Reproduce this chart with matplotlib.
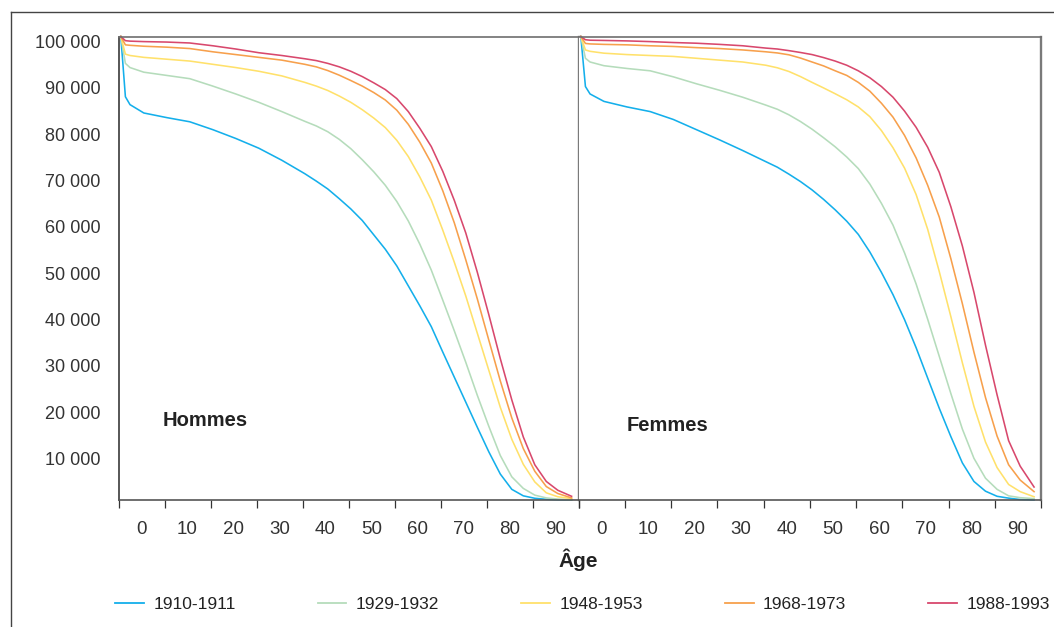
import matplotlib
matplotlib.use("Agg")
import matplotlib.pyplot as plt
from matplotlib.lines import Line2D
from matplotlib.transforms import ScaledTranslation

plt.rcParams['font.family'] = ['Liberation Sans Narrow', 'Liberation Sans', 'DejaVu Sans']

# ages of the survival table (drawn at the centre of each age class)
AGES = [0, 1, 2, 5, 10, 15, 20, 25, 30, 35,
        40, 42.5, 45, 47.5, 50, 52.5, 55, 57.5, 60, 62.5, 65, 67.5,
        70, 72.5, 75, 77.5, 80, 82.5, 85, 87.5, 90, 92.5, 95, 98]
COHORTS = ['1910-1911', '1929-1932', '1948-1953', '1968-1973', '1988-1993']
COLORS = ['#14afeb', '#b5dcbb', '#ffe16b', '#f7a04c', '#d8486d']

# survivors out of 100 000 births, men
hommes_1910 = [100000, 87000, 85300, 83500, 82500, 81600, 79900, 78000, 75900, 73300,
               70400, 68800, 67100, 65000, 62800, 60300, 57200, 54100, 50500, 46200, 41900, 37400,
               31900, 26500, 21100, 15700, 10400, 5600, 2300, 900, 370, 150, 50, 0]
hommes_1929 = [100000, 94200, 93300, 92300, 91600, 90900, 89300, 87600, 85800, 83800,
               81700, 80700, 79450, 77800, 75800, 73400, 70800, 67900, 64400, 60200, 55200, 49600,
               43100, 36500, 29700, 22600, 15900, 9600, 5000, 2500, 1050, 450, 200, 50]
hommes_1948 = [100000, 96200, 95900, 95500, 95100, 94700, 94000, 93300, 92500, 91500,
               90100, 89300, 88350, 87150, 85800, 84200, 82400, 80350, 77600, 74100, 69700, 64700,
               58200, 51300, 44000, 36000, 28000, 20000, 13100, 7700, 3900, 1550, 700, 300]
hommes_1968 = [100000, 98200, 98100, 97900, 97700, 97400, 96700, 96100, 95500, 94900,
               94000, 93450, 92650, 91650, 90500, 89300, 87900, 86300, 84100, 81050, 77200, 72700,
               66700, 59800, 51800, 43400, 34500, 25700, 17700, 11100, 6200, 2900, 1400, 450]
hommes_1988 = [100000, 99100, 99000, 98900, 98800, 98600, 98000, 97300, 96500, 95900,
               95200, 94800, 94200, 93450, 92500, 91350, 90000, 88550, 86600, 83800, 80200, 76250,
               70900, 64650, 57600, 49150, 40000, 30500, 21600, 13600, 7600, 4000, 2100, 800]

# survivors out of 100 000 births, women
femmes_1910 = [100000, 89200, 87600, 86000, 84800, 83800, 82100, 79900, 77700, 75400,
               73000, 71800, 70300, 68700, 66900, 64850, 62600, 60150, 57300, 53500, 49100, 44300,
               38900, 32850, 26300, 19800, 13700, 8000, 4000, 1900, 800, 400, 100, 0]
femmes_1929 = [100000, 95300, 94500, 93700, 93100, 92600, 91300, 89800, 88400, 86900,
               85200, 84300, 83100, 81650, 80000, 78150, 76200, 74000, 71500, 68150, 64000, 59300,
               53300, 46600, 39000, 31000, 23000, 15300, 9000, 4700, 2300, 900, 500, 300]
femmes_1948 = [100000, 97100, 96800, 96400, 96100, 95900, 95700, 95300, 94900, 94500,
               93800, 93250, 92450, 91350, 90100, 88900, 87650, 86350, 84800, 82700, 79700, 76000,
               71600, 65900, 58400, 49300, 39600, 29600, 20200, 12500, 7000, 3350, 1800, 700]
femmes_1968 = [100000, 98500, 98400, 98300, 98200, 98000, 97850, 97600, 97400, 97100,
               96700, 96450, 96050, 95350, 94500, 93650, 92600, 91600, 90100, 88200, 85600, 82600,
               78650, 73800, 67900, 61050, 52100, 42350, 31900, 22100, 13800, 7600, 4300, 1800]
femmes_1988 = [100000, 99300, 99200, 99150, 99050, 98900, 98700, 98550, 98300, 98000,
               97500, 97300, 96950, 96550, 96100, 95450, 94700, 93800, 92600, 91100, 89200, 86900,
               83900, 80400, 76100, 70700, 63300, 54800, 44800, 33400, 22700, 12800, 7300, 2800]

Y_TICKS = [10000, 20000, 30000, 40000, 50000, 60000, 70000, 80000, 90000, 100000]
X_LABELS = [0, 10, 20, 30, 40, 50, 60, 70, 80, 90]

panels = [
    ('Hommes', [hommes_1910, hommes_1929, hommes_1948, hommes_1968, hommes_1988]),
    ('Femmes', [femmes_1910, femmes_1929, femmes_1948, femmes_1968, femmes_1988]),
]

W, H = 1054, 627
fig = plt.figure(figsize=(W / 100, H / 100), dpi=100)
fig.patch.set_facecolor('white')

bottom = 1 - 500 / H
height = 463.5 / H
ax1 = fig.add_axes([118.5 / W, bottom, 460 / W, height])
ax2 = fig.add_axes([578.5 / W, bottom, 462.5 / W, height], sharey=ax1)

text_color = '#333333'
xs = [a + 0.5 for a in AGES]

for ax, (name, series) in zip([ax1, ax2], panels):
    for values, color, label in zip(series, COLORS, COHORTS):
        ax.plot(xs, values, color=color, linewidth=1.15, label=label,
                solid_joinstyle='round', clip_on=False)

    ax.set_xlim(0, 100)
    ax.set_ylim(0, 100000)

    # tick marks between the age groups, labels centred in each group
    ax.set_xticks(range(0, 101, 10))
    ax.set_xticklabels([])
    ax.set_xticks([v + 5 for v in X_LABELS], minor=True)
    ax.set_xticklabels([str(v) for v in X_LABELS], minor=True)
    ax.tick_params(axis='x', which='major', direction='out', length=6,
                   width=0.9, color='#333333')
    ax.tick_params(axis='x', which='minor', length=0, pad=15,
                   labelsize=13.5, labelcolor=text_color)
    ax.tick_params(axis='y', length=0)

    for spine in ax.spines.values():
        spine.set_color('#6e6e6e')
        spine.set_linewidth(1.2)
    ax.spines['bottom'].set_color('#555555')

ax1.set_yticks(Y_TICKS)
ax1.set_yticklabels([f"{v:,}".replace(',', ' ') for v in Y_TICKS])
ax1.tick_params(axis='y', pad=13, labelsize=13, labelcolor=text_color)
offset = ScaledTranslation(0, -5 / 100, fig.dpi_scale_trans)
for lab in ax1.get_yticklabels():
    lab.set_transform(lab.get_transform() + offset)
ax1.spines['left'].set_color('#3a3a3a')
ax1.spines['right'].set_linewidth(1.7)
ax1.spines['right'].set_color('#7a7a7a')

ax2.tick_params(axis='y', labelleft=False)
ax2.spines['left'].set_visible(False)
ax2.spines['right'].set_linewidth(1.7)
ax2.spines['right'].set_color('#7a7a7a')

ax1.text(0.097, 0.172, 'Hommes', transform=ax1.transAxes, ha='left', va='center',
         fontsize=14.5, fontweight='bold', color='#222222')
ax2.text(0.103, 0.16, 'Femmes', transform=ax2.transAxes, ha='left', va='center',
         fontsize=14.5, fontweight='bold', color='#222222')

fig.text(578.5 / W, 1 - 560 / H, 'Âge', ha='center', va='center',
         fontsize=15, fontweight='bold', color='#222222')

handles = [Line2D([], [], color=c, linewidth=1.3) for c in COLORS]
fig.legend(handles, COHORTS, loc='lower left',
           bbox_to_anchor=(115 / W, 1 - 612 / H, (1050 - 115) / W, 22 / H),
           mode='expand', ncol=5, frameon=False, fontsize=12.5,
           handlelength=1.65, handletextpad=0.55, borderpad=0, borderaxespad=0,
           labelcolor='#222222')

# outer frame of the figure
frame_kw = dict(transform=fig.transFigure, color='#444444', linewidth=1.0)
fig.add_artist(Line2D([10.5 / W, 10.5 / W], [0, 1 - 11.5 / H], **frame_kw))
fig.add_artist(Line2D([10.5 / W, 1], [1 - 11.5 / H, 1 - 11.5 / H], **frame_kw))

fig.savefig('out.png', dpi=100, facecolor='white')
